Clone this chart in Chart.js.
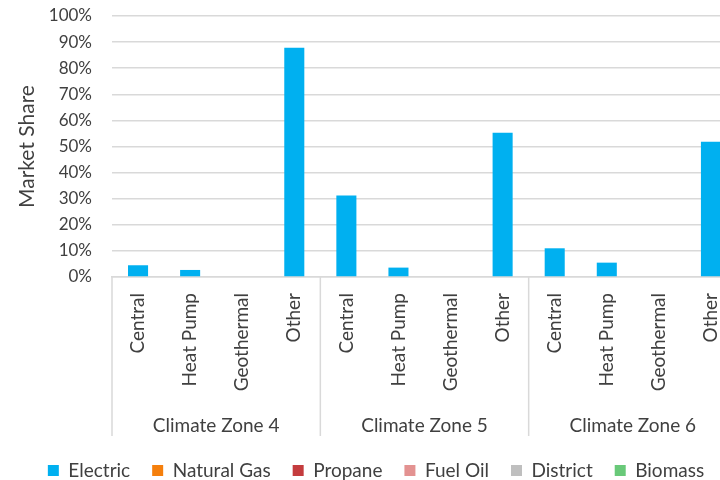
<!DOCTYPE html>
<html>
<head>
<meta charset="utf-8">
<script src="https://cdn.jsdelivr.net/npm/chart.js@4.4.0/dist/chart.umd.min.js"></script>
<style>
  html, body { margin: 0; padding: 0; background: #fff; overflow: hidden; width: 720px; height: 480px; }
  #wrap { width: 768px; height: 490px; position: relative; }
</style>
</head>
<body>
<div id="wrap"><canvas id="marketShareChart"></canvas></div>
<script>
// Category levels
const zones = ["Climate Zone 4", "Climate Zone 5", "Climate Zone 6"];
const systems = ["Central", "Heat Pump", "Geothermal", "Other"];

// Market share (%) per zone/system, in the order zone 4, zone 5, zone 6
const electric = [4.5, 2.7, 0, 87.8, 31.2, 3.6, 0, 55.3, 11.0, 5.5, 0, 51.8];
const naturalGas = [0, 0, 0, 0, 0, 0, 0, 0, 0, 0, 0, 0];
const propane = [0, 0, 0, 0, 0, 0, 0, 0, 0, 0, 0, 0];
const fuelOil = [0, 0, 0, 0, 0, 0, 0, 0, 0, 0, 0, 0];
const district = [0, 0, 0, 0, 0, 0, 0, 0, 0, 0, 0, 0];
const biomass = [0, 0, 0, 0, 0, 0, 0, 0, 0, 0, 0, 0];

const yTicks = [0, 10, 20, 30, 40, 50, 60, 70, 80, 90, 100];

const FONT = "Lato, 'Liberation Sans', sans-serif";
const TEXT = "#404040";
const GRID = "#d9d9d9";

const labels = zones.flatMap(() => systems);

// Draws the outer level of the x axis: zone dividers and zone names
const zoneGroups = {
  id: "zoneGroups",
  afterDraw(chart) {
    const x = chart.scales.x;
    const ctx = chart.ctx;
    const step = x.getPixelForValue(1) - x.getPixelForValue(0);
    const top = chart.chartArea.bottom;
    const bottom = top + 159;
    ctx.save();
    ctx.strokeStyle = GRID;
    ctx.lineWidth = 1.5;
    for (let g = 0; g <= zones.length; g++) {
      const px = x.getPixelForValue(g * systems.length) - step / 2;
      ctx.beginPath();
      ctx.moveTo(px, top);
      ctx.lineTo(px, bottom);
      ctx.stroke();
    }
    ctx.fillStyle = TEXT;
    ctx.font = "19px " + FONT;
    ctx.textAlign = "center";
    ctx.textBaseline = "middle";
    zones.forEach((zone, g) => {
      const first = x.getPixelForValue(g * systems.length);
      const last = x.getPixelForValue(g * systems.length + systems.length - 1);
      ctx.fillText(zone, (first + last) / 2, top + 149);
    });
    ctx.restore();
  },
};

function series(label, data, color) {
  return {
    label: label,
    data: data,
    backgroundColor: color,
    borderWidth: 0,
    grouped: false,
    categoryPercentage: 1,
    barPercentage: 0.385,
  };
}

new Chart(document.getElementById("marketShareChart"), {
  type: "bar",
  data: {
    labels: labels,
    datasets: [
      series("Electric", electric, "#00B0F0"),
      series("Natural Gas", naturalGas, "#F57F0C"),
      series("Propane", propane, "#C43C3E"),
      series("Fuel Oil", fuelOil, "#E39291"),
      series("District", district, "#BFBFBF"),
      series("Biomass", biomass, "#69C979"),
    ],
  },
  options: {
    responsive: true,
    maintainAspectRatio: false,
    animation: false,
    layout: {
      padding: { top: 16, right: 31, left: 15, bottom: 0 },
    },
    plugins: {
      legend: {
        position: "bottom",
        labels: {
          boxWidth: 11,
          boxHeight: 11,
          padding: 22,
          color: TEXT,
          font: { family: FONT, size: 19 },
        },
      },
      tooltip: { enabled: false },
    },
    scales: {
      x: {
        grid: { display: false, drawTicks: false },
        border: { display: true, color: GRID, width: 1.5 },
        ticks: {
          minRotation: 90,
          maxRotation: 90,
          padding: 16,
          color: TEXT,
          font: { family: FONT, size: 19 },
        },
        afterFit(scale) {
          scale.height = 162;
        },
      },
      y: {
        min: 0,
        max: 100,
        afterBuildTicks(scale) {
          scale.ticks = yTicks.map((v) => ({ value: v }));
        },
        grid: {
          color: GRID,
          lineWidth: 1.5,
          drawTicks: true,
          tickLength: 18,
          tickColor: "rgba(0,0,0,0)",
        },
        border: { display: false },
        ticks: {
          autoSkip: false,
          padding: 2,
          color: TEXT,
          font: { family: FONT, size: 17 },
          callback: function (value) {
            return value + "%";
          },
        },
        title: {
          display: true,
          text: "Market Share",
          color: TEXT,
          padding: { top: 0, bottom: 0 },
          font: { family: FONT, size: 21 },
        },
        afterFit(scale) {
          scale.width = 97;
        },
      },
    },
  },
  plugins: [zoneGroups],
});
</script>
</body>
</html>
